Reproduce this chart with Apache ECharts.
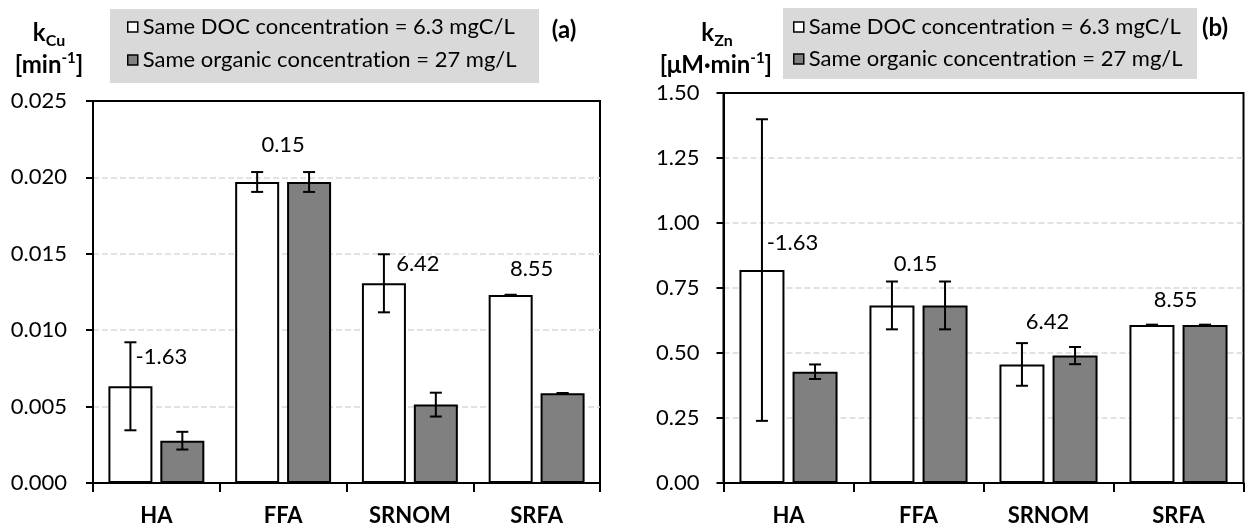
<!DOCTYPE html>
<html>
<head>
<meta charset="utf-8">
<script src="https://cdn.jsdelivr.net/npm/echarts@6/dist/echarts.min.js"></script>
<style>
  html, body { margin: 0; padding: 0; background: #fff; }
  #chart { width: 1245px; height: 529px; }
</style>
</head>
<body>
<div id="chart"></div>
<script>
// Organic matter types on the category axis
const categories = ['HA', 'FFA', 'SRNOM', 'SRFA'];

// Panel (a): k_Cu [min^-1]
const cuSameDOC    = [0.00633, 0.0197, 0.01307, 0.0123];
const cuSameDOCErr = [0.00288, 0.00065, 0.0019, 0.00002];
const cuSameOrg    = [0.00277, 0.0197, 0.00513, 0.00587];
const cuSameOrgErr = [0.00058, 0.00065, 0.00078, 0.00002];

// Panel (b): k_Zn [µM·min^-1]
const znSameDOC    = [0.819, 0.683, 0.456, 0.608];
const znSameDOCErr = [0.58, 0.092, 0.082, 0.001];
const znSameOrg    = [0.428, 0.683, 0.490, 0.608];
const znSameOrgErr = [0.028, 0.092, 0.033, 0.001];

// Annotation text written above each pair of bars
const noteLabels = ['-1.63', '0.15', '6.42', '8.55'];

// Tick settings
const cuTicks = { min: 0, max: 0.025, interval: 0.005, digits: 3 };
const znTicks = { min: 0, max: 1.5, interval: 0.25, digits: 2 };

const seriesNames = ['Same DOC concentration = 6.3 mgC/L', 'Same organic concentration = 27 mg/L'];

// ---- layout / style ----
const FONT = 'Lato';
const WHITE = '#ffffff';
const GRAY = '#808080';
// note placement: [horizontal nudge in px, height in axis units]
const cuNoteLayout = [[5, 0.00825], [0, 0.0221], [8, 0.01433], [-5, 0.0140]];
const znNoteLayout = [[4, 0.923], [-3, 0.842], [-1, 0.619], [-3, 0.704]];

const panels = [
  { grid: { left: 93, top: 101, width: 507, height: 382 }, ticks: cuTicks, labelMargin: 26,
    barWidth: 44, a: cuSameDOC, aErr: cuSameDOCErr, b: cuSameOrg, bErr: cuSameOrgErr, notes: cuNoteLayout },
  { grid: { left: 723.5, top: 93, width: 520, height: 390 }, ticks: znTicks, labelMargin: 24,
    barWidth: 45, a: znSameDOC, aErr: znSameDOCErr, b: znSameOrg, bErr: znSameOrgErr, notes: znNoteLayout }
];
const BAR_GAP = 0.18;

const grids = [], xAxes = [], yAxes = [], series = [];

panels.forEach((p, k) => {
  grids.push(Object.assign({ show: true, borderColor: '#000', borderWidth: 2, backgroundColor: 'transparent' }, p.grid));
  xAxes.push({
    type: 'category', gridIndex: k, data: categories,
    axisLine: { lineStyle: { color: '#000', width: 2 } },
    axisTick: { show: true, length: 9, lineStyle: { color: '#000', width: 2 } },
    axisLabel: { color: '#000', fontFamily: FONT, fontWeight: 'bold', fontSize: 22, margin: 22, interval: 0 },
    splitLine: { show: false }
  });
  yAxes.push({
    type: 'value', gridIndex: k, min: p.ticks.min, max: p.ticks.max, interval: p.ticks.interval,
    axisLine: { show: true, lineStyle: { color: '#000', width: 2 } },
    axisTick: { show: true, length: 7, lineStyle: { color: '#000', width: 2 } },
    axisLabel: { color: '#000', fontFamily: FONT, fontSize: 22, margin: p.labelMargin,
                 formatter: v => v.toFixed(p.ticks.digits) },
    splitLine: { show: true, showMinLine: false, showMaxLine: false,
                 lineStyle: { color: '#d9d9d9', width: 1.5, type: [6, 3] } }
  });

  const half = (p.barWidth * (1 + BAR_GAP)) / 2;
  const barCommon = { type: 'bar', xAxisIndex: k, yAxisIndex: k, barWidth: p.barWidth, barGap: (BAR_GAP * 100) + '%' };
  series.push(Object.assign({ name: seriesNames[0], data: p.a,
    itemStyle: { color: WHITE, borderColor: '#000', borderWidth: 2 } }, barCommon));
  series.push(Object.assign({ name: seriesNames[1], data: p.b,
    itemStyle: { color: GRAY, borderColor: '#000', borderWidth: 2 } }, barCommon));

  // Error bars (mean ± error) drawn over each bar
  [[p.a, p.aErr, -half], [p.b, p.bErr, half]].forEach(([vals, errs, dx]) => {
    series.push({
      type: 'custom', xAxisIndex: k, yAxisIndex: k, z: 5, silent: true,
      data: vals.map((v, i) => [i, v, errs[i]]),
      encode: { x: 0, y: 1 },
      renderItem: (params, api) => {
        const i = api.value(0), v = api.value(1), e = api.value(2);
        const top = api.coord([i, v + e]);
        const bot = api.coord([i, v - e]);
        const x = top[0] + dx, cap = 6;
        const st = { stroke: '#000', lineWidth: 2 };
        return { type: 'group', children: [
          { type: 'line', shape: { x1: x, y1: top[1], x2: x, y2: bot[1] }, style: st },
          { type: 'line', shape: { x1: x - cap, y1: top[1], x2: x + cap, y2: top[1] }, style: st },
          { type: 'line', shape: { x1: x - cap, y1: bot[1], x2: x + cap, y2: bot[1] }, style: st }
        ] };
      }
    });
  });

  // Annotation numbers
  series.push({
    type: 'custom', xAxisIndex: k, yAxisIndex: k, silent: true, z: 6,
    data: noteLabels.map((t, i) => [i, p.notes[i][1], p.notes[i][0]]),
    encode: { x: 0, y: 1 },
    renderItem: (params, api) => {
      const pt = api.coord([api.value(0), api.value(1)]);
      return { type: 'text', x: pt[0] + api.value(2), y: pt[1],
        style: { text: noteLabels[params.dataIndex], fill: '#000', fontFamily: FONT, fontSize: 22,
                 align: 'center', verticalAlign: 'middle' } };
    }
  });
});

const legendItems = [
  { name: seriesNames[0], itemStyle: { color: WHITE, borderColor: '#000', borderWidth: 1.5 } },
  { name: seriesNames[1], itemStyle: { color: GRAY, borderColor: '#000', borderWidth: 1.5 } }
];
const legendCommon = {
  orient: 'vertical', icon: 'rect', itemWidth: 10, itemHeight: 10, selectedMode: false,
  padding: 0, z: 10, data: legendItems,
  // break the "ti" ligature so the words read as plain letters
  formatter: name => name.replace(/ti/g, 't\u200Ci'),
  textStyle: { color: '#000', fontFamily: FONT, fontSize: 22 }
};

const titleRich = {
  k: { fontFamily: FONT, fontWeight: 'bold', fontSize: 24, color: '#000' },
  s: { fontFamily: FONT, fontWeight: 'bold', fontSize: 16, color: '#000', padding: [16, 0, 0, 0] },
  p: { fontFamily: FONT, fontWeight: 'bold', fontSize: 15, color: '#000', padding: [0, 0, 14, 0] }
};
function richText(x, y, text) {
  return { type: 'text', z: 10, x: x, y: y,
    style: { text: text, rich: titleRich, align: 'center', verticalAlign: 'middle' } };
}

const option = {
  animation: false,
  backgroundColor: '#fff',
  grid: grids, xAxis: xAxes, yAxis: yAxes, series: series,
  legend: [
    Object.assign({ left: 127, top: 16, itemGap: 11 }, legendCommon),
    Object.assign({ left: 793, top: 16, itemGap: 10 }, legendCommon)
  ],
  graphic: [
    { type: 'rect', z: 1, shape: { x: 110, y: 9, width: 429, height: 74 }, style: { fill: '#d9d9d9' } },
    { type: 'rect', z: 1, shape: { x: 783, y: 8, width: 414, height: 71 }, style: { fill: '#d9d9d9' } },
    richText(49, 33, '{k|k}{s|Cu}'),
    richText(49, 65, '{k|[min}{p|-1}{k|]}'),
    richText(717, 33, '{k|k}{s|Zn}'),
    richText(716, 65, '{k|[μM·min}{p|-1}{k|]}'),
    { type: 'text', z: 10, x: 564, y: 30, style: { text: '(a)', fontFamily: FONT, fontWeight: 'bold',
      fontSize: 24, fill: '#000', align: 'center', verticalAlign: 'middle' } },
    { type: 'text', z: 10, x: 1215, y: 28, style: { text: '(b)', fontFamily: FONT, fontWeight: 'bold',
      fontSize: 24, fill: '#000', align: 'center', verticalAlign: 'middle' } }
  ]
};

const chart = echarts.init(document.getElementById('chart'), null, { renderer: 'canvas' });
chart.setOption(option);
</script>
</body>
</html>
